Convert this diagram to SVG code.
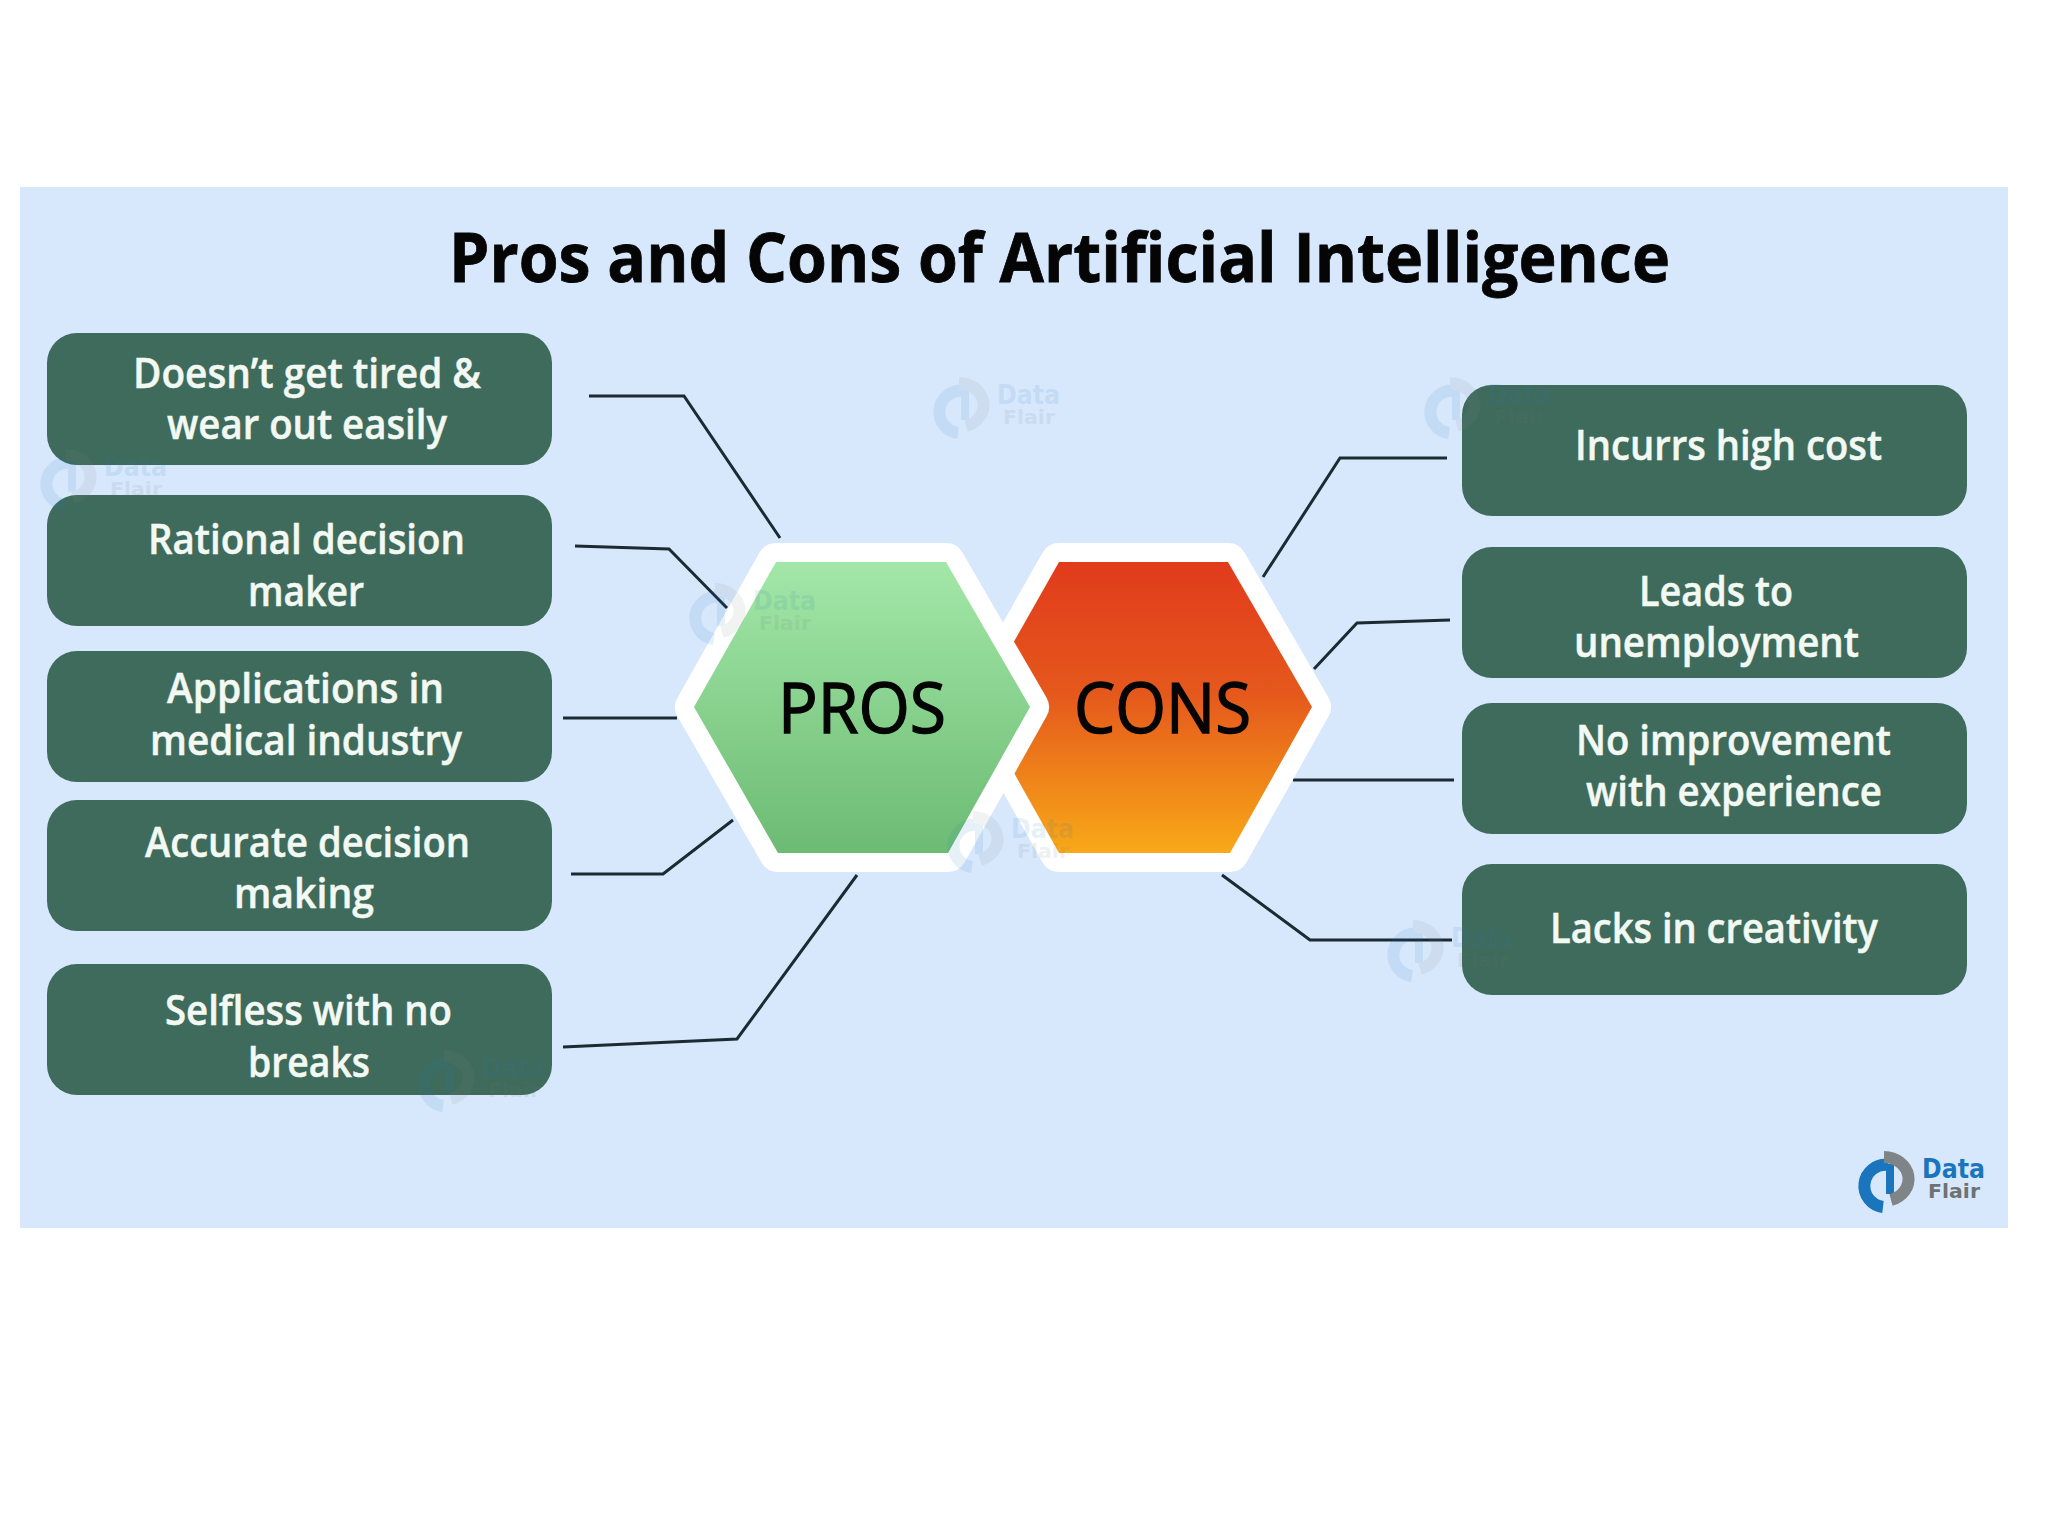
<svg xmlns="http://www.w3.org/2000/svg" xmlns:xlink="http://www.w3.org/1999/xlink" width="2048" height="1536" viewBox="0 0 2048 1536">
<style>
.box{fill:#3f6b5c}
.lbl{font-family:"Open Sans","Noto Sans","Liberation Sans",sans-serif;font-weight:600;font-size:41px;fill:#f2f8f2;stroke:#f2f8f2;stroke-width:.5}
.hex{font-family:"Open Sans","Noto Sans","Liberation Sans",sans-serif;font-weight:400;font-size:70px;fill:#050505;stroke:#050505;stroke-width:1.4}
.title{font-family:"Open Sans","Noto Sans","Liberation Sans",sans-serif;font-weight:700;font-size:68px;fill:#050505;stroke:#050505;stroke-width:.8}
.con{fill:none;stroke:#1c2b33;stroke-width:3}
.hx{stroke:#fff;stroke-width:38;stroke-linejoin:round;paint-order:stroke fill}
.ba{fill:none;stroke:#1b75bc;stroke-width:12}
.bb{fill:none;stroke:#1b75bc;stroke-width:8}
.ga{fill:none;stroke:#7f8487;stroke-width:12}
.ld{font-family:"DejaVu Sans",sans-serif;font-weight:700;font-size:26px;fill:#1b75bc}
.lf{font-family:"DejaVu Sans",sans-serif;font-weight:700;font-size:19px;fill:#6d7275}
.wm{opacity:.1}
</style>
<defs>
<linearGradient id="gp" x1="0" y1="0" x2="0" y2="1"><stop offset="0" stop-color="#a3e7a8"/><stop offset="1" stop-color="#6cbb73"/></linearGradient>
<linearGradient id="gc" x1="0" y1="0" x2="0" y2="1"><stop offset="0" stop-color="#e13b1c"/><stop offset=".45" stop-color="#e5581c"/><stop offset="1" stop-color="#f8a918"/></linearGradient>
<g id="logo">
<path class="ba" d="M30 13A21 21 0 0 0 25 55"/>
<path class="bb" d="M32 12V42"/>
<path class="ga" d="M26 5A25 22 0 0 1 33 48"/>
<text class="ld" x="64" y="26" textLength="63" lengthAdjust="spacingAndGlyphs">Data</text>
<text class="lf" x="70" y="46" textLength="52" lengthAdjust="spacingAndGlyphs">Flair</text>
</g>
</defs>
<rect id="page" width="2048" height="1536" fill="#fff"/>
<rect id="panel" x="20" y="187" width="1988" height="1041" fill="#d7e8fc"/>
<text id="title" class="title" x="449" y="282" textLength="1221" lengthAdjust="spacingAndGlyphs">Pros and Cons of Artificial Intelligence</text>
<g id="connectors">
<polyline class="con" points="589,396 684,396 780,538"/>
<polyline class="con" points="575,546 669,549 727,608"/>
<polyline class="con" points="563,718 677,718"/>
<polyline class="con" points="571,874 663,874 733,820"/>
<polyline class="con" points="563,1047 737,1039 857,875"/>
<polyline class="con" points="1447,458 1340,458 1263,577"/>
<polyline class="con" points="1450,620 1357,623 1314,669"/>
<polyline class="con" points="1454,780 1293,780"/>
<polyline class="con" points="1452,940 1310,940 1222,875"/>
</g>
<g id="node-cons">
<polygon class="hx" fill="url(#gc)" points="1059,562 1228,562 1312,707 1230,853 1059,853 977,707"/>
<text class="hex" x="1074" y="733" textLength="177" lengthAdjust="spacingAndGlyphs">CONS</text>
</g>
<g id="node-pros">
<polygon class="hx" fill="url(#gp)" points="776,562 946,562 1030,707 948,853 778,853 694,707"/>
<text class="hex" x="778" y="733" textLength="168" lengthAdjust="spacingAndGlyphs">PROS</text>
</g>
<g id="pro-1"><rect class="box" x="47" y="333" width="505" height="132" rx="30"/>
<text class="lbl" x="133" y="388" textLength="348" lengthAdjust="spacingAndGlyphs">Doesn’t get tired &amp;</text>
<text class="lbl" x="167" y="439" textLength="280" lengthAdjust="spacingAndGlyphs">wear out easily</text></g>
<g id="pro-2"><rect class="box" x="47" y="495" width="505" height="131" rx="30"/>
<text class="lbl" x="148" y="554" textLength="317" lengthAdjust="spacingAndGlyphs">Rational decision</text>
<text class="lbl" x="248" y="606" textLength="116" lengthAdjust="spacingAndGlyphs">maker</text></g>
<g id="pro-3"><rect class="box" x="47" y="651" width="505" height="131" rx="30"/>
<text class="lbl" x="167" y="703" textLength="277" lengthAdjust="spacingAndGlyphs">Applications in</text>
<text class="lbl" x="150" y="755" textLength="312" lengthAdjust="spacingAndGlyphs">medical industry</text></g>
<g id="pro-4"><rect class="box" x="47" y="800" width="505" height="131" rx="30"/>
<text class="lbl" x="145" y="857" textLength="325" lengthAdjust="spacingAndGlyphs">Accurate decision</text>
<text class="lbl" x="234" y="908" textLength="140" lengthAdjust="spacingAndGlyphs">making</text></g>
<g id="pro-5"><rect class="box" x="47" y="964" width="505" height="131" rx="30"/>
<text class="lbl" x="165" y="1025" textLength="287" lengthAdjust="spacingAndGlyphs">Selfless with no</text>
<text class="lbl" x="248" y="1077" textLength="122" lengthAdjust="spacingAndGlyphs">breaks</text></g>
<g id="con-1"><rect class="box" x="1462" y="385" width="505" height="131" rx="30"/>
<text class="lbl" x="1575" y="460" textLength="307" lengthAdjust="spacingAndGlyphs">Incurrs high cost</text></g>
<g id="con-2"><rect class="box" x="1462" y="547" width="505" height="131" rx="30"/>
<text class="lbl" x="1639" y="606" textLength="154" lengthAdjust="spacingAndGlyphs">Leads to</text>
<text class="lbl" x="1574" y="657" textLength="285" lengthAdjust="spacingAndGlyphs">unemployment</text></g>
<g id="con-3"><rect class="box" x="1462" y="703" width="505" height="131" rx="30"/>
<text class="lbl" x="1576" y="755" textLength="315" lengthAdjust="spacingAndGlyphs">No improvement</text>
<text class="lbl" x="1586" y="806" textLength="296" lengthAdjust="spacingAndGlyphs">with experience</text></g>
<g id="con-4"><rect class="box" x="1462" y="864" width="505" height="131" rx="30"/>
<text class="lbl" x="1550" y="943" textLength="328" lengthAdjust="spacingAndGlyphs">Lacks in creativity</text></g>
<g id="watermarks">
<use class="wm" xlink:href="#logo" href="#logo" x="933" y="378"/>
<use class="wm" xlink:href="#logo" href="#logo" x="1424" y="378"/>
<use class="wm" xlink:href="#logo" href="#logo" x="40" y="450"/>
<use class="wm" xlink:href="#logo" href="#logo" x="689" y="584"/>
<use class="wm" xlink:href="#logo" href="#logo" x="947" y="812"/>
<use class="wm" xlink:href="#logo" href="#logo" x="1387" y="921"/>
<use class="wm" xlink:href="#logo" href="#logo" x="418" y="1051"/>
</g>
<use id="brand-logo" xlink:href="#logo" href="#logo" x="1858" y="1152"/>
</svg>
